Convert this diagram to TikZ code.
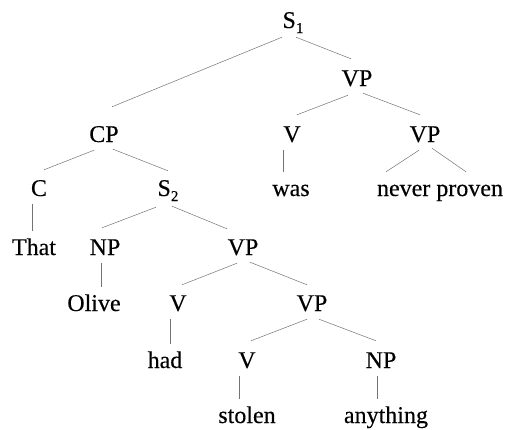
\documentclass[tikz,border=0pt]{standalone}
\usepackage{fontspec}
\setmainfont[FakeBold=0.3]{Liberation Serif}
\usetikzlibrary{calc}
% category label with a lowered index, e.g. S_1
\newcommand{\catidx}[2]{#1\raisebox{-5pt}{\fontsize{15}{15}\selectfont #2}}
% vertical stem from a preterminal down to its word
\newcommand{\stemline}[3]{%
  \coordinate (stemtop) at ($(#1.south)+(#3,1)$);
  \draw[branch] (stemtop) -- ($(stemtop |- #2.north)+(0,2)$);}
\begin{document}
\begin{tikzpicture}[x=1pt,y=-1pt,
  lbl/.style={anchor=base, font=\fontsize{24}{24}\selectfont,
              inner sep=0pt, text height=26pt, text depth=7pt},
  branch/.style={draw=black!55, line width=0.5pt}]
\useasboundingbox (0,0) rectangle (512,429);

% categories and words
\node[lbl] (s1)   at (293,28)  {\catidx{S}{1}};
\node[lbl] (vpa)  at (357,86)  {VP};
\node[lbl] (cp)   at (104,142) {CP};
\node[lbl] (va)   at (292,142) {V};
\node[lbl] (vpb)  at (425,142) {VP};
\node[lbl] (c)    at (39,196)  {C};
\node[lbl] (s2)   at (168,196) {\catidx{S}{2}};
\node[lbl] (was)  at (291,196) {was};
\node[lbl] (np)   at (440,196) {never proven};
\node[lbl] (that) at (34,255)  {That};
\node[lbl] (npa)  at (105,255) {NP};
\node[lbl] (vpc)  at (243,255) {VP};
\node[lbl] (olive)at (94,311)  {Olive};
\node[lbl] (vb)   at (178,311) {V};
\node[lbl] (vpd)  at (312,311) {VP};
\node[lbl] (had)  at (165,368) {had};
\node[lbl] (vc)   at (247,368) {V};
\node[lbl] (npb)  at (381,368) {NP};
\node[lbl] (stolen) at (247,423) {stolen};
\node[lbl] (anything) at (386,423) {anything};

% branches
\draw[branch] ($(s1.south)+(-11,2)$) -- ($(cp.north)+(8,-9)$);
\draw[branch] ($(s1.south)+(3,2)$)   -- ($(vpa.north)+(-6,-1)$);
\draw[branch] ($(vpa.south)+(-9,2)$) -- ($(va.north)+(5,-1)$);
\draw[branch] ($(vpa.south)+(6,0)$)  -- ($(vpb.north)+(-5,-1)$);
\draw[branch] ($(cp.south)+(-10,1)$) -- ($(c.north)+(5,0)$);
\draw[branch] ($(cp.south)+(9,0)$)   -- ($(s2.north)+(0,1)$);
\draw[branch] ($(vpb.south)+(-6,1)$) -- ($(np.north)+(-54,2)$);
\draw[branch] ($(vpb.south)+(7,-1)$) -- ($(np.north)+(26,2)$);
\draw[branch] ($(s2.south)+(-12,4)$) -- ($(npa.north)+(-3,-1)$);
\draw[branch] ($(s2.south)+(4,3)$)   -- ($(vpc.north)+(-16,0)$);
\draw[branch] ($(vpc.south)+(-6,1)$) -- ($(vb.north)+(4,0)$);
\draw[branch] ($(vpc.south)+(7,0)$)  -- ($(vpd.north)+(-5,0)$);
\draw[branch] ($(vpd.south)+(-5,1)$) -- ($(vc.north)+(4,-1)$);
\draw[branch] ($(vpd.south)+(7,1)$)  -- ($(npb.north)+(-5,-1)$);

% stems to words
\stemline{va}{was}{-9}
\stemline{c}{that}{-7}
\stemline{npa}{olive}{-4}
\stemline{vb}{had}{-8}
\stemline{vc}{stolen}{-8}
\stemline{npb}{anything}{-4}
\end{tikzpicture}
\end{document}
